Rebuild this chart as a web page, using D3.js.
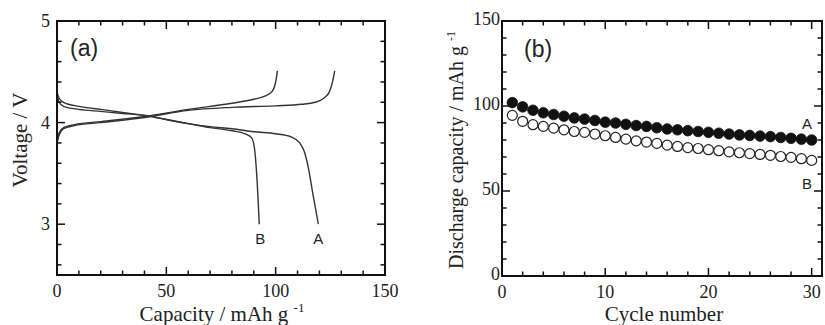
<!DOCTYPE html>
<html>
<head>
<meta charset="utf-8">
<script src="https://cdn.jsdelivr.net/npm/d3@7"></script>
<style>
  body { margin: 0; background: #fff; }
  svg text { fill: #222; }
</style>
</head>
<body>
<svg id="drawing_region"></svg>
<script>
// panel (a): charge / discharge curves, [capacity, voltage]
const chargeA = [[0,3.80],[1,3.88],[3,3.94],[8,3.97],[20,4.00],[40,4.05],[60,4.12],[80,4.15],[100,4.165],[112,4.18],[118,4.20],[122,4.24],[124.5,4.30],[126,4.40],[127,4.51]];
const chargeB = [[0,3.80],[1,3.90],[3,3.95],[8,3.98],[20,4.01],[40,4.06],[60,4.13],[80,4.19],[90,4.23],[95,4.26],[98.5,4.31],[100,4.40],[100.8,4.51]];
const dischargeA = [[0,4.30],[1,4.24],[3,4.20],[10,4.16],[20,4.13],[30,4.10],[42,4.065],[50,4.03],[60,3.99],[70,3.96],[80,3.94],[90,3.91],[100,3.89],[107,3.86],[111,3.80],[113,3.72],[115,3.55],[117,3.30],[119.5,3.00]];
const dischargeB = [[0,4.27],[1,4.20],[3,4.16],[10,4.13],[20,4.11],[30,4.09],[42,4.065],[50,4.03],[60,3.99],[70,3.95],[80,3.92],[86,3.89],[89,3.85],[90.3,3.75],[91.3,3.50],[92.5,3.00]];

// panel (b): discharge capacity per cycle
const cycles = d3.range(1, 31);
const capA = [102,99.5,97.5,96,95,94,93,92.3,91.5,90.5,90,89.2,88.5,88,87.2,86.5,86,85.5,85,84.5,84,83.5,83,82.7,82.3,82,81.5,81,80.5,80];
const capB = [94.5,91,89,88,87,86,85,84.5,83.5,82.5,81.5,80.5,79.5,78.8,78,77,76.2,75.5,75,74.3,73.7,73,72.5,72,71.5,71,70.3,69.8,69,68];

const ticksA_x = [0, 50, 100, 150];
const ticksA_y = [3, 4, 5];
const ticksB_x = [0, 10, 20, 30];
const ticksB_y = [0, 50, 100, 150];

const svg = d3.select('#drawing_region').attr('width', 825).attr('height', 325);
const serif = '"Liberation Serif", "Times New Roman", serif';
const sans = '"Liberation Sans", Arial, sans-serif';

// framed box with inward ticks on all four sides
function frame(g, x, y, xt, xminor, yt, yminor) {
    const [x0, x1] = x.range();
    const [y0, y1] = y.range();
    const xs = xminor.map(v => ({v, len: xt.includes(v) ? 8 : 4.5}));
    const ys = yminor.map(v => ({v, len: yt.some(t => Math.abs(t - v) < 1e-6) ? 8 : 4.5}));
    const tk = g.append('g').attr('stroke', '#111').attr('stroke-width', 1.5);
    [[y0, -1], [y1, 1]].forEach(([py, dir]) => {
        tk.selectAll(null).data(xs).enter().append('line')
            .attr('x1', d => x(d.v)).attr('x2', d => x(d.v))
            .attr('y1', py).attr('y2', d => py + dir * d.len);
    });
    [[x0, 1], [x1, -1]].forEach(([px, dir]) => {
        tk.selectAll(null).data(ys).enter().append('line')
            .attr('y1', d => y(d.v)).attr('y2', d => y(d.v))
            .attr('x1', px).attr('x2', d => px + dir * d.len);
    });
    g.append('rect')
        .attr('x', x0).attr('y', y1)
        .attr('width', x1 - x0).attr('height', y0 - y1)
        .attr('fill', 'none').attr('stroke', '#111').attr('stroke-width', 2);
}

// ---------- panel (a)
const xa = d3.scaleLinear().domain([0, 150]).range([57, 385]);
const ya = d3.scaleLinear().domain([2.5, 5]).range([275, 21]);
const ga = svg.append('g');

const line = d3.line().x(d => xa(d[0])).y(d => ya(d[1])).curve(d3.curveMonotoneX);
[chargeA, chargeB, dischargeA, dischargeB].forEach(s => {
    ga.append('path').datum(s).attr('d', line)
        .attr('fill', 'none').attr('stroke', '#333').attr('stroke-width', 1.4);
});

frame(ga, xa, ya, ticksA_x, d3.range(0, 151, 10), ticksA_y, d3.range(26, 50, 2).map(v => v / 10));

ga.selectAll('.xl').data(ticksA_x).enter().append('text')
    .attr('x', d => xa(d)).attr('y', 297)
    .attr('text-anchor', 'middle').style('font-family', serif).style('font-size', '18px')
    .text(d => d);
ga.selectAll('.yl').data(ticksA_y).enter().append('text')
    .attr('x', 50).attr('y', d => ya(d) + 6)
    .attr('text-anchor', 'end').style('font-family', serif).style('font-size', '18px')
    .text(d => d);

const xta = ga.append('text').attr('x', 222).attr('y', 321)
    .attr('text-anchor', 'middle').style('font-family', serif).style('font-size', '21px');
xta.append('tspan').text('Capacity / mAh g ');
xta.append('tspan').attr('dy', -9).style('font-size', '13px').text('-1');

ga.append('text').attr('transform', 'translate(27,140) rotate(-90)')
    .attr('text-anchor', 'middle').style('font-family', serif).style('font-size', '21px')
    .text('Voltage / V');

ga.append('text').attr('x', 70).attr('y', 56).style('font-family', sans).style('font-size', '23px').text('(a)');
ga.append('text').attr('x', xa(93)).attr('y', 244).attr('text-anchor', 'middle')
    .style('font-family', sans).style('font-size', '15px').text('B');
ga.append('text').attr('x', xa(119.5)).attr('y', 244).attr('text-anchor', 'middle')
    .style('font-family', sans).style('font-size', '15px').text('A');

// ---------- panel (b)
const xb = d3.scaleLinear().domain([0, 31]).range([502, 822]);
const yb = d3.scaleLinear().domain([0, 150]).range([276, 21]);
const gb = svg.append('g');

frame(gb, xb, yb, ticksB_x, d3.range(0, 31, 2), ticksB_y, d3.range(0, 151, 10));

gb.selectAll('.pb').data(cycles).enter().append('circle')
    .attr('cx', d => xb(d)).attr('cy', (d, i) => yb(capB[i])).attr('r', 5)
    .attr('fill', '#fff').attr('stroke', '#222').attr('stroke-width', 1.2);
gb.selectAll('.pa').data(cycles).enter().append('circle')
    .attr('cx', d => xb(d)).attr('cy', (d, i) => yb(capA[i])).attr('r', 5.3)
    .attr('fill', '#111').attr('stroke', '#111').attr('stroke-width', 0.8);

gb.selectAll('.xl').data(ticksB_x).enter().append('text')
    .attr('x', d => xb(d)).attr('y', 298)
    .attr('text-anchor', 'middle').style('font-family', serif).style('font-size', '18px')
    .text(d => d);
gb.selectAll('.yl').data(ticksB_y).enter().append('text')
    .attr('x', 500).attr('y', d => yb(d) + 4)
    .attr('text-anchor', 'end').style('font-family', serif).style('font-size', '18px')
    .text(d => d);

gb.append('text').attr('x', 664).attr('y', 321)
    .attr('text-anchor', 'middle').style('font-family', serif).style('font-size', '21px')
    .text('Cycle number');

const yt = gb.append('text').attr('transform', 'translate(463,150) rotate(-90)')
    .attr('text-anchor', 'middle').style('font-family', serif).style('font-size', '20px');
yt.append('tspan').text('Discharge capacity / mAh g ');
yt.append('tspan').attr('dy', -8).style('font-size', '12px').text('-1');

gb.append('text').attr('x', 524).attr('y', 57).style('font-family', sans).style('font-size', '23px').text('(b)');
gb.append('text').attr('x', 807).attr('y', 129).attr('text-anchor', 'middle')
    .style('font-family', sans).style('font-size', '15px').text('A');
gb.append('text').attr('x', 807).attr('y', 189).attr('text-anchor', 'middle')
    .style('font-family', sans).style('font-size', '15px').text('B');
</script>
</body>
</html>
